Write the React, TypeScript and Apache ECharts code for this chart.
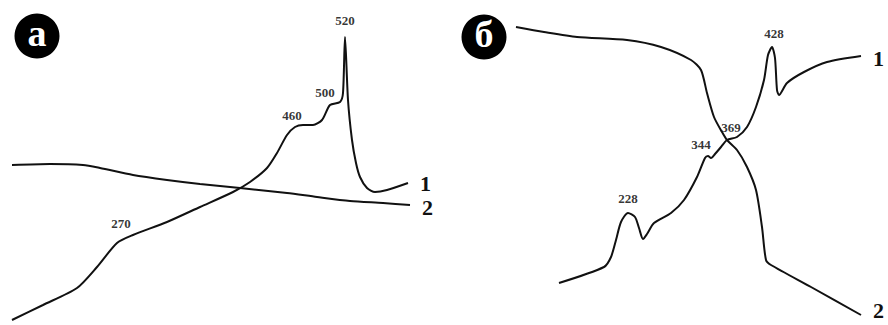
import React, { useEffect, useRef } from "react";
import * as echarts from "echarts";

// Panel "а" — traced curve points (x, y) in the picture's relative units
const panelA_curve1: [number, number][] = [
  [12, 320], [43, 305], [77, 288], [97, 267], [117, 243], [133, 235],
  [167, 222], [200, 207], [233, 192], [250, 182], [267, 168], [277, 153],
  [287, 135], [295, 127], [303, 125], [313, 125], [322, 120], [330, 105],
  [340, 102], [343, 93], [345, 37], [348, 100], [352, 140], [356, 163],
  [360, 177], [367, 188], [375, 192], [387, 190], [408, 183],
];
const panelA_curve2: [number, number][] = [
  [12, 165], [50, 164], [83, 165], [100, 168], [133, 175], [167, 180],
  [200, 184], [240, 188], [287, 193], [317, 197], [350, 201], [383, 203],
  [410, 205],
];
const panelA_peaks: [number, number, string][] = [
  [121, 223, "270"], [292, 115, "460"], [325, 92, "500"], [345, 20, "520"],
];

// Panel "б"
const panelB_curve1: [number, number][] = [
  [115, 283], [160, 267], [167, 257], [172, 240], [177, 222], [184, 213],
  [191, 217], [195, 228], [199, 239], [203, 234], [210, 223], [227, 213],
  [240, 200], [253, 177], [261, 158], [264, 156], [267, 158], [271, 154],
  [277, 147], [283, 140], [293, 137], [303, 127], [312, 107], [320, 80],
  [324, 55], [328, 47], [331, 58], [333, 90], [335, 95], [343, 83],
  [360, 72], [383, 62], [417, 56],
];
const panelB_curve2: [number, number][] = [
  [72, 27], [100, 32], [133, 37], [183, 40], [217, 47], [247, 60],
  [257, 70], [263, 93], [270, 117], [278, 132], [283, 140], [293, 150],
  [303, 167], [312, 190], [318, 227], [322, 260], [327, 265], [367, 287],
  [417, 315],
];
const panelB_peaks: [number, number, string][] = [
  [330, 33, "428"], [287, 127, "369"], [257, 144, "344"], [184, 198, "228"],
];

const curveNames = ["1", "2"];
const panelNames = ["а", "б"];

const FONT = "'Liberation Serif', 'DejaVu Serif', serif";
const INK = "#111";

export default function App() {
  const ref = useRef<HTMLDivElement>(null);

  useEffect(() => {
    document.body.style.margin = "0";
    const chart = echarts.init(ref.current!, null, { renderer: "svg" });

    const lineSeries = (
      data: [number, number][],
      idx: number,
      name: string,
      endY: number
    ) => ({
      type: "line",
      xAxisIndex: idx,
      yAxisIndex: idx,
      data,
      smooth: 0.25,
      symbol: "none",
      lineStyle: { color: INK, width: 2 },
      silent: true,
      endLabel: {
        show: true,
        formatter: name,
        fontFamily: FONT,
        fontWeight: "bold",
        fontSize: 22,
        color: INK,
        distance: 12,
        offset: [0, endY],
      },
    });

    const peakSeries = (data: [number, number, string][], idx: number) => ({
      type: "scatter",
      xAxisIndex: idx,
      yAxisIndex: idx,
      data: data.map((d) => ({ value: [d[0], d[1]], name: d[2] })),
      symbolSize: 0,
      silent: true,
      label: {
        show: true,
        position: "inside",
        formatter: (p: any) => p.name,
        fontFamily: FONT,
        fontWeight: "bold",
        fontSize: 13,
        color: "#000",
      },
    });

    const badge = (cx: number, cy: number, txt: string) => ({
      type: "group",
      children: [
        { type: "circle", shape: { cx, cy, r: 22.5 }, style: { fill: "#000" } },
        {
          type: "text",
          x: cx,
          y: cy - 3,
          style: {
            text: txt,
            fill: "#fff",
            font: `bold 38px ${FONT}`,
            textAlign: "center",
            textVerticalAlign: "middle",
          },
        },
      ],
    });

    chart.setOption({
      animation: false,
      backgroundColor: "#fff",
      grid: [
        { left: 0, top: 0, width: 444, height: 325 },
        { left: 444, top: 0, width: 444, height: 325 },
      ],
      xAxis: [
        { type: "value", gridIndex: 0, min: 0, max: 444, show: false },
        { type: "value", gridIndex: 1, min: 0, max: 444, show: false },
      ],
      yAxis: [
        { type: "value", gridIndex: 0, min: 0, max: 325, inverse: true, show: false },
        { type: "value", gridIndex: 1, min: 0, max: 325, inverse: true, show: false },
      ],
      series: [
        lineSeries(panelA_curve1, 0, curveNames[0], 0),
        lineSeries(panelA_curve2, 0, curveNames[1], 2),
        peakSeries(panelA_peaks, 0),
        lineSeries(panelB_curve1, 1, curveNames[0], 2),
        lineSeries(panelB_curve2, 1, curveNames[1], -5),
        peakSeries(panelB_peaks, 1),
      ],
      graphic: [badge(37, 36, panelNames[0]), badge(484, 37, panelNames[1])],
    });

    return () => chart.dispose();
  }, []);

  return <div ref={ref} style={{ width: 888, height: 325 }} />;
}
